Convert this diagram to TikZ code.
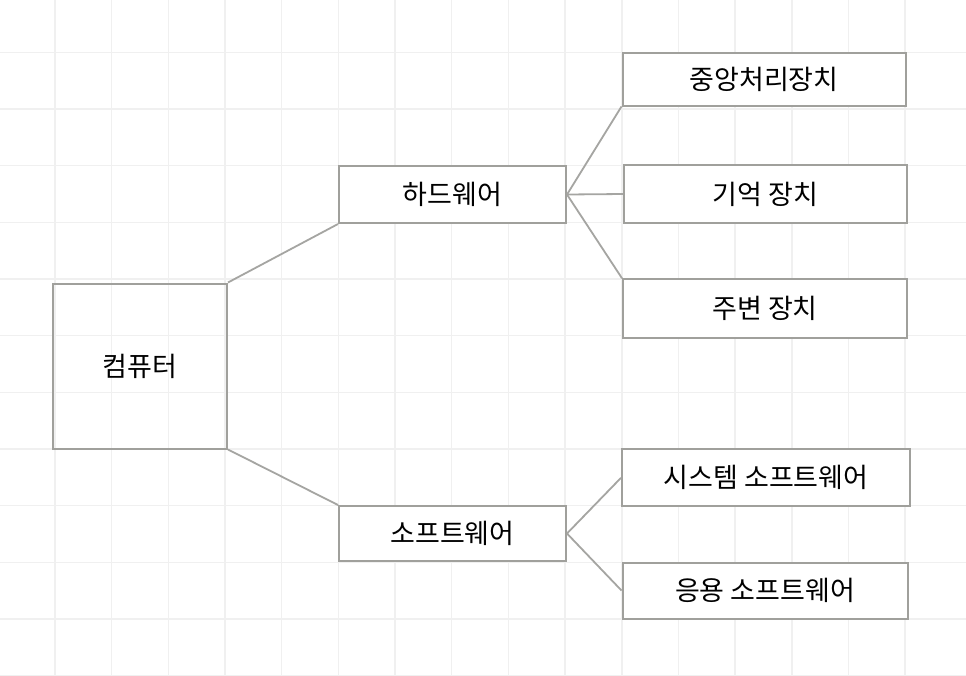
\documentclass[tikz,border=0pt]{standalone}
\usepackage{fontspec}
\newfontfamily\krfont{Noto Sans CJK KR}
\definecolor{gridc}{RGB}{240,240,240}
\definecolor{boxc}{RGB}{160,160,156}
\definecolor{linec}{RGB}{165,165,162}
\begin{document}
\begin{tikzpicture}[x=1pt,y=-1pt,
  gridline/.style={draw=gridc,line width=1.6pt},
  tbox/.style={draw=boxc,line width=2pt,fill=white,rectangle,inner sep=0pt,font=\krfont\fontsize{27}{31}\selectfont},
  rootbox/.style={draw=boxc,line width=2pt,rectangle,inner sep=0pt,font=\krfont\fontsize{27}{31}\selectfont},
  conn/.style={draw=linec,line width=1.8pt}]
\useasboundingbox (0,0) rectangle (966,675);
\fill[white] (0,0) rectangle (966,675);
% grid
\foreach \i in {0,...,16} {\draw[gridline] ({55+(\i-1)*56.67},0) -- ({55+(\i-1)*56.67},675);}
\foreach \j in {0,...,12} {\draw[gridline] (0,{52.3+(\j-1)*56.67}) -- (966,{52.3+(\j-1)*56.67});}
% nodes
\node[rootbox,minimum width=174pt,minimum height=165pt] (comp) at (140,366) {컴퓨터};
\node[tbox,minimum width=227pt,minimum height=57pt] (hw) at (452.5,194.5) {하드웨어};
\node[tbox,minimum width=227pt,minimum height=55pt] (sw) at (452.5,533.5) {소프트웨어};
\node[tbox,minimum width=283pt,minimum height=53pt] (cpu) at (764,79) {중앙처리장치};
\node[tbox,minimum width=283pt,minimum height=58pt] (mem) at (765.5,194) {기억 장치};
\node[tbox,minimum width=284pt,minimum height=59pt] (per) at (765,308.8) {주변 장치};
\node[tbox,minimum width=288pt,minimum height=57pt] (sys) at (766,477.8) {시스템 소프트웨어};
\node[tbox,minimum width=285pt,minimum height=56pt] (app) at (765,590.5) {응용 소프트웨어};
% connectors
\draw[conn] (comp.north east) -- (hw.south west);
\draw[conn] (comp.south east) -- (sw.north west);
\draw[conn] (hw.east) -- (cpu.south west);
\draw[conn] (hw.east) -- (mem.west);
\draw[conn] (hw.east) -- (per.north west);
\draw[conn] (sw.east) -- (sys.west);
\draw[conn] (sw.east) -- (app.west);
\end{tikzpicture}
\end{document}
